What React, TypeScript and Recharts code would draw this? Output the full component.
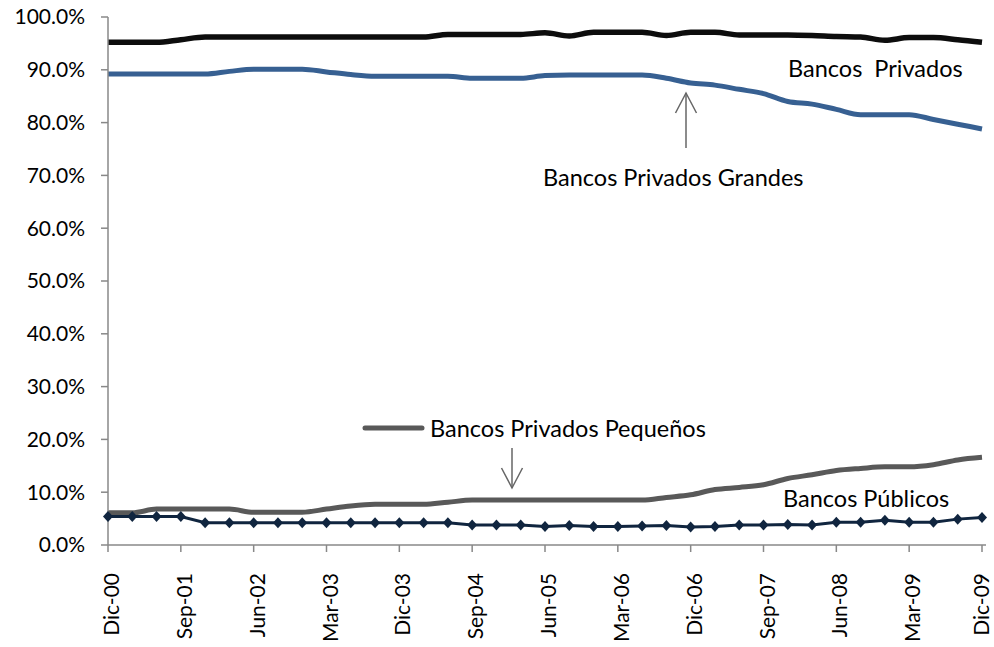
import React from 'react';
import {
  LineChart,
  Line,
  XAxis,
  YAxis,
  Customized,
} from 'recharts';

// quarterly periods, Dic-00 .. Dic-09
const periods = [
  'Dic-00', 'Mar-01', 'Jun-01', 'Sep-01', 'Dic-01', 'Mar-02', 'Jun-02', 'Sep-02', 'Dic-02',
  'Mar-03', 'Jun-03', 'Sep-03', 'Dic-03', 'Mar-04', 'Jun-04', 'Sep-04', 'Dic-04',
  'Mar-05', 'Jun-05', 'Sep-05', 'Dic-05', 'Mar-06', 'Jun-06', 'Sep-06', 'Dic-06',
  'Mar-07', 'Jun-07', 'Sep-07', 'Dic-07', 'Mar-08', 'Jun-08', 'Sep-08', 'Dic-08',
  'Mar-09', 'Jun-09', 'Sep-09', 'Dic-09',
];

const privados = [
  95.2, 95.2, 95.2, 95.7, 96.2, 96.2, 96.2, 96.2, 96.2, 96.2, 96.2, 96.2, 96.2,
  96.2, 96.7, 96.7, 96.7, 96.7, 97.0, 96.4, 97.1, 97.1, 97.1, 96.5, 97.1,
  97.1, 96.6, 96.6, 96.6, 96.5, 96.3, 96.2, 95.6, 96.1, 96.1, 95.7, 95.2,
];

const privadosGrandes = [
  89.2, 89.2, 89.2, 89.2, 89.2, 89.7, 90.1, 90.1, 90.1, 89.6, 89.1, 88.8, 88.8,
  88.8, 88.8, 88.4, 88.4, 88.4, 88.9, 89.0, 89.0, 89.0, 89.0, 88.4, 87.5,
  87.1, 86.3, 85.5, 84.0, 83.5, 82.5, 81.5, 81.5, 81.5, 80.6, 79.7, 78.8,
];

const privadosPequenos = [
  6.1, 6.1, 6.8, 6.8, 6.8, 6.8, 6.2, 6.2, 6.2, 6.8, 7.4, 7.7, 7.7,
  7.7, 8.1, 8.5, 8.5, 8.5, 8.5, 8.5, 8.5, 8.5, 8.5, 9.0, 9.5,
  10.5, 10.9, 11.4, 12.6, 13.3, 14.1, 14.5, 14.8, 14.8, 15.2, 16.1, 16.6,
];

const publicos = [
  5.4, 5.4, 5.4, 5.4, 4.2, 4.2, 4.2, 4.2, 4.2, 4.2, 4.2, 4.2, 4.2,
  4.2, 4.2, 3.8, 3.8, 3.8, 3.5, 3.7, 3.5, 3.5, 3.6, 3.7, 3.4,
  3.5, 3.8, 3.8, 3.9, 3.8, 4.3, 4.3, 4.7, 4.3, 4.3, 4.9, 5.2,
];

const yTicks = [0, 10, 20, 30, 40, 50, 60, 70, 80, 90, 100];

const data = periods.map((period, i) => ({
  period,
  privados: privados[i],
  grandes: privadosGrandes[i],
  pequenos: privadosPequenos[i],
  publicos: publicos[i],
}));

const W = 994;
const FONT = "Lato, 'Open Sans', sans-serif";
const AXIS = '#888888';
const ARROW = '#666666';

const Diamond = (props: any) => {
  const { cx, cy, index } = props;
  if (cx == null || cy == null) return null;
  return (
    <polygon
      key={`d-${index}`}
      points={`${cx},${cy - 5.5} ${cx + 5},${cy} ${cx},${cy + 5.5} ${cx - 5},${cy}`}
      fill="#10253F"
    />
  );
};

// vertical period label; keep the last one inside the svg edge
const PeriodTick = (props: any) => {
  const { x, y, payload } = props;
  const dy = Math.min(11, W - 5 - x);
  return (
    <text
      x={x}
      y={y}
      dy={dy}
      transform={`rotate(-90, ${x}, ${y})`}
      textAnchor="end"
      fontSize={21}
      fontFamily={FONT}
      fill="#000"
    >
      {payload.value}
    </text>
  );
};

// text labels and arrows placed over the plot
const Notes = () => (
  <g fontFamily={FONT} fontSize={23.5} fill="#000">
    <text x={788} y={77} style={{ whiteSpace: 'pre' }}>Bancos  Privados</text>
    <text x={543} y={186}>Bancos Privados Grandes</text>
    <text x={430} y={437}>Bancos Privados Pequeños</text>
    <text x={783} y={507}>Bancos Públicos</text>

    <line x1={365} y1={428} x2={422} y2={428} stroke="#595959" strokeWidth={5} strokeLinecap="round" />

    <g stroke={ARROW} strokeWidth={1.5} fill="none">
      <line x1={686} y1={93} x2={686} y2={148} />
      <polyline points="675.5,113 686,93 696.5,113" />
      <line x1={512} y1={448} x2={512} y2={488} />
      <polyline points="501.5,468 512,488 522.5,468" />
    </g>
  </g>
);

export default function App() {
  return (
    <div style={{ position: 'absolute', left: 0, top: 0, background: '#fff' }}>
      <LineChart
        width={W}
        height={647}
        data={data}
        margin={{ top: 17, right: 8, bottom: 0, left: 8 }}
      >
        <XAxis
          dataKey="period"
          interval={2}
          height={102}
          tickSize={7}
          tickMargin={21}
          padding={{ left: 0, right: 4 }}
          stroke={AXIS}
          strokeWidth={1.5}
          tick={<PeriodTick />}
        />
        <XAxis
          xAxisId="top"
          dataKey="period"
          orientation="top"
          height={0}
          tick={false}
          tickLine={false}
          stroke={AXIS}
          strokeWidth={1.5}
        />
        <YAxis
          domain={[0, 100]}
          ticks={yTicks}
          width={100}
          tickSize={7}
          tickMargin={16}
          stroke={AXIS}
          strokeWidth={1.5}
          tickFormatter={(v: number) => `${v.toFixed(1)}%`}
          tick={{ fill: '#000', fontSize: 21, fontFamily: FONT }}
        />
        <YAxis
          yAxisId="right"
          orientation="right"
          width={0}
          tick={false}
          tickLine={false}
          stroke={AXIS}
          strokeWidth={1.5}
        />
        <Line
          dataKey="privados"
          type="monotone"
          stroke="#0d0d0d"
          strokeWidth={5.5}
          dot={false}
          isAnimationActive={false}
        />
        <Line
          dataKey="grandes"
          type="monotone"
          stroke="#376092"
          strokeWidth={5}
          dot={false}
          isAnimationActive={false}
        />
        <Line
          dataKey="pequenos"
          type="monotone"
          stroke="#595959"
          strokeWidth={5}
          dot={false}
          isAnimationActive={false}
        />
        <Line
          dataKey="publicos"
          type="linear"
          stroke="#10253F"
          strokeWidth={3}
          dot={<Diamond />}
          isAnimationActive={false}
        />
        <Customized component={Notes} />
      </LineChart>
    </div>
  );
}
